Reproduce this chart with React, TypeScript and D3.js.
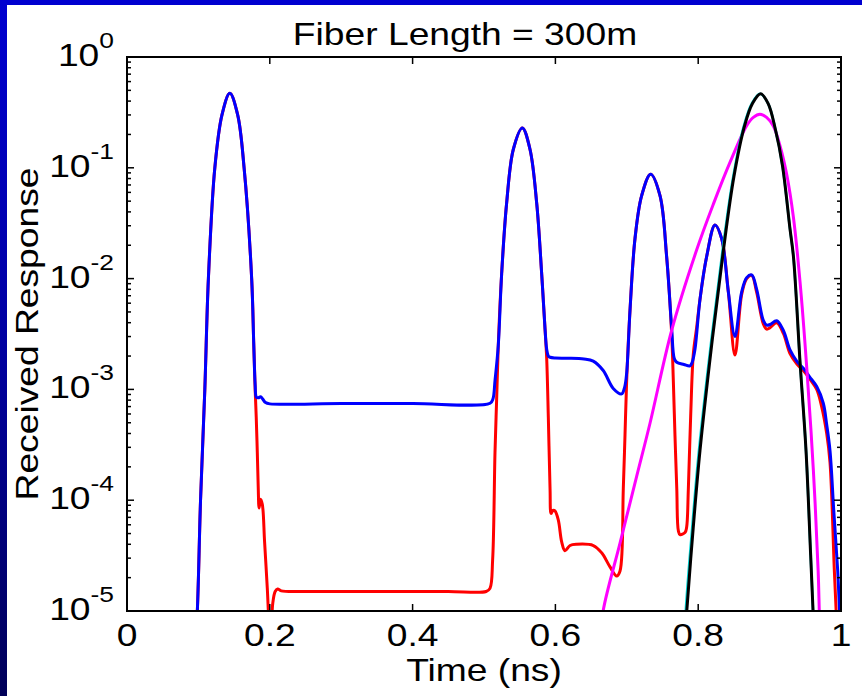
import React from "react";
import * as d3 from "d3";

const W = 862;
const H = 696;
const PL = 127, PR = 841, PT = 57, PB = 611;

const titleText = "Fiber Length = 300m";
const xLabelText = "Time (ns)";
const yLabelText = "Received Response";

const xTickValues = [0, 0.2, 0.4, 0.6, 0.8, 1];
const xTickLabels = ["0", "0.2", "0.4", "0.6", "0.8", "1"];
const yTickExponents = [0, -1, -2, -3, -4, -5];

const redData: [number, number][] = [
  [0.094, 3e-6], [0.0985, 1e-5], [0.103, 1e-4], [0.109, 1e-3], [0.114, 1e-2], [0.123, 0.1],
  [0.133, 0.3], [0.144, 0.47], [0.155, 0.3], [0.164, 0.1], [0.1746, 1e-2], [0.1775, 2.6e-3],
  [0.1795, 1.0e-3], [0.181, 5.6e-4], [0.1825, 2.7e-4], [0.1838, 1.3e-4], [0.185, 8.5e-5],
  [0.187, 1.02e-4], [0.1895, 9.2e-5], [0.1927, 4.2e-5], [0.1965, 1.6e-5], [0.1995, 7e-6],
  [0.2015, 6e-6], [0.204, 1.15e-5], [0.2075, 1.5e-5], [0.211, 1.58e-5], [0.216, 1.52e-5],
  [0.25, 1.5e-5], [0.35, 1.5e-5], [0.45, 1.5e-5], [0.503, 1.5e-5], [0.5084, 1.6e-5],
  [0.5121, 2.9e-5], [0.5154, 2.7e-4], [0.5177, 8.1e-4], [0.52, 2.5e-3], [0.5247, 1.1e-2],
  [0.5317, 4.8e-2], [0.5411, 0.147], [0.5537, 0.229], [0.5644, 0.147], [0.5738, 4.8e-2],
  [0.5808, 1.1e-2], [0.5855, 3.5e-3], [0.5878, 1.9e-3], [0.5901, 5.6e-4], [0.5925, 1.27e-4],
  [0.594, 7.6e-5], [0.5965, 8.1e-5], [0.5994, 8.0e-5], [0.6041, 6.6e-5], [0.6088, 4.2e-5],
  [0.6134, 3.5e-5], [0.6205, 3.9e-5], [0.6298, 4.0e-5], [0.6531, 3.9e-5], [0.6648, 3.35e-5],
  [0.6765, 2.5e-5], [0.6858, 2.07e-5], [0.6905, 2.3e-5], [0.6951, 1.27e-4], [0.6975, 3.9e-4],
  [0.6998, 1.2e-3], [0.7045, 5.2e-3], [0.7115, 2.3e-2], [0.7208, 5.6e-2], [0.7334, 8.75e-2],
  [0.7465, 5.6e-2], [0.7558, 1.58e-2], [0.7628, 3.2e-3], [0.7652, 1.18e-3], [0.7675, 3.8e-4],
  [0.77, 1.27e-4], [0.7722, 5.3e-5], [0.7745, 4.9e-5], [0.7815, 5.1e-5], [0.7838, 5.7e-5],
  [0.7862, 1.27e-4], [0.7894, 5.6e-4], [0.7932, 2.1e-3], [0.7978, 3.6e-3], [0.8025, 6.5e-3],
  [0.812, 1.6e-2], [0.8235, 3.05e-2], [0.8328, 2.3e-2], [0.8422, 7.6e-3], [0.8515, 2.04e-3],
  [0.8609, 7.2e-3], [0.8679, 1.0e-2], [0.8749, 1.07e-2], [0.8819, 7.5e-3], [0.8912, 3.9e-3],
  [0.8959, 3.5e-3], [0.9006, 3.6e-3], [0.91, 4.0e-3], [0.9193, 3.2e-3], [0.9286, 2.1e-3],
  [0.938, 1.7e-3], [0.9472, 1.48e-3], [0.956, 1.25e-3], [0.966, 1.0e-3], [0.9729, 7.0e-4],
  [0.98, 4.0e-4], [0.9846, 2.2e-4], [0.9907, 2.3e-5], [0.9932, 1e-5], [0.995, 5e-6],
];

const blueData: [number, number][] = [
  [0.094, 3e-6], [0.0985, 1e-5], [0.103, 1e-4], [0.109, 1e-3], [0.114, 1e-2], [0.123, 0.1],
  [0.133, 0.3], [0.144, 0.47], [0.155, 0.3], [0.164, 0.1], [0.1746, 1e-2], [0.1775, 2.6e-3],
  [0.1795, 1.1e-3], [0.1812, 8.5e-4], [0.184, 8.4e-4], [0.187, 8.6e-4], [0.19, 8.2e-4],
  [0.194, 7.6e-4], [0.2, 7.4e-4], [0.3, 7.45e-4], [0.4, 7.45e-4], [0.5085, 7.5e-4],
  [0.5125, 8.2e-4], [0.5154, 1.2e-3], [0.52, 2.5e-3], [0.5247, 1.1e-2], [0.5317, 4.8e-2],
  [0.5411, 0.147], [0.5537, 0.229], [0.5644, 0.147], [0.5738, 4.8e-2], [0.5808, 1.1e-2],
  [0.5855, 3.5e-3], [0.5878, 2.3e-3], [0.5901, 2.0e-3], [0.5925, 1.95e-3], [0.6, 1.92e-3],
  [0.6158, 1.91e-3], [0.64, 1.88e-3], [0.653, 1.8e-3], [0.667, 1.48e-3], [0.681, 1.02e-3],
  [0.6928, 9.1e-4], [0.697, 1.05e-3], [0.6998, 1.4e-3], [0.7045, 5.2e-3], [0.7115, 2.3e-2],
  [0.7208, 5.6e-2], [0.7334, 8.75e-2], [0.7465, 5.6e-2], [0.7558, 1.58e-2], [0.7628, 3.6e-3],
  [0.7665, 1.9e-3], [0.7699, 1.76e-3], [0.78, 1.68e-3], [0.7885, 1.63e-3], [0.7915, 1.75e-3],
  [0.7955, 2.3e-3], [0.8025, 6.5e-3], [0.812, 1.6e-2], [0.8235, 3.05e-2], [0.8328, 2.3e-2],
  [0.8422, 7.6e-3], [0.8515, 3.0e-3], [0.8609, 7.6e-3], [0.8679, 1.02e-2], [0.8749, 1.08e-2],
  [0.8819, 8.0e-3], [0.8912, 4.2e-3], [0.8959, 3.8e-3], [0.9006, 3.85e-3], [0.91, 4.17e-3],
  [0.9193, 3.4e-3], [0.9286, 2.27e-3], [0.938, 1.8e-3], [0.9472, 1.55e-3], [0.956, 1.3e-3],
  [0.966, 1.06e-3], [0.9752, 7.5e-4], [0.98, 4.8e-4], [0.9846, 2.8e-4], [0.9899, 8e-5],
  [0.9954, 2.3e-5], [0.998, 1e-5], [1.0, 6e-6],
];

const magentaData: [number, number][] = [
  [0.662, 5e-6], [0.6671, 1.02e-5], [0.6905, 4.1e-5], [0.7138, 1.64e-4], [0.7325, 4.95e-4],
  [0.7628, 3.4e-3], [0.7979, 1.82e-2], [0.8212, 4.7e-2], [0.8445, 0.112], [0.8679, 0.24],
  [0.8772, 0.285], [0.8865, 0.304], [0.8958, 0.285], [0.9052, 0.238], [0.9146, 0.158],
  [0.924, 8.7e-2], [0.9333, 3.6e-2], [0.9426, 9.4e-3], [0.952, 1.58e-3], [0.9613, 1.86e-4],
  [0.968, 2.3e-5], [0.9696, 1e-5], [0.971, 5e-6],
];

const cyanData: [number, number][] = [
  [0.7805, 5e-6], [0.7825, 1e-5], [0.7915, 5.6e-5], [0.801, 2.8e-4], [0.8175, 2.5e-3],
  [0.834, 1.78e-2], [0.849, 8.3e-2], [0.864, 0.24], [0.875, 0.38], [0.8865, 0.465],
  [0.898, 0.38], [0.908, 0.224], [0.918, 0.105], [0.9286, 2.8e-2], [0.9334, 1.58e-2],
  [0.9426, 1.78e-3], [0.951, 2.8e-4], [0.9575, 3.2e-5], [0.9612, 8.9e-6], [0.963, 5e-6],
];

const blackData: [number, number][] = [
  [0.781, 5e-6], [0.784, 1e-5], [0.793, 5.6e-5], [0.8025, 2.8e-4], [0.8188, 2.5e-3],
  [0.8352, 1.78e-2], [0.85, 8.3e-2], [0.865, 0.24], [0.876, 0.38], [0.8875, 0.465],
  [0.898, 0.38], [0.908, 0.224], [0.918, 0.105], [0.9286, 2.8e-2], [0.9334, 1.58e-2],
  [0.9426, 1.78e-3], [0.951, 2.8e-4], [0.9575, 3.2e-5], [0.9612, 8.9e-6], [0.963, 5e-6],
];

const FONT = "'Liberation Sans', Arial, Helvetica, sans-serif";
const SX = 1.2;
const FS = 31;

export default function App() {
  const x = d3.scaleLinear().domain([0, 1]).range([PL, PR]);
  const y = d3.scaleLog().domain([1e-5, 1]).range([PB, PT]);
  const line = d3
    .line<[number, number]>()
    .x((d) => x(d[0]))
    .y((d) => y(d[1]))
    .curve(d3.curveCatmullRom.alpha(0.5));

  const minorTicks: number[] = [];
  for (let e = -5; e < 0; e++) {
    for (let m = 2; m <= 9; m++) minorTicks.push(m * Math.pow(10, e));
  }
  const innerX = xTickValues.filter((v) => v > 0 && v < 1);

  const series: { data: [number, number][]; color: string; w: number }[] = [
    { data: redData, color: "#ff0000", w: 3 },
    { data: blueData, color: "#0000ff", w: 3 },
    { data: magentaData, color: "#ff00ff", w: 3 },
    { data: cyanData, color: "#00d8d8", w: 2.5 },
    { data: blackData, color: "#000000", w: 3 },
  ];

  return (
    <svg
      width={W}
      height={H}
      style={{ position: "absolute", left: 0, top: 0, display: "block" }}
      fontFamily={FONT}
    >
      <defs>
        <linearGradient id="bg" x1="0" y1="0" x2="0" y2="1">
          <stop offset="0" stopColor="#0000d0" />
          <stop offset="0.5" stopColor="#0000a0" />
          <stop offset="1" stopColor="#000058" />
        </linearGradient>
        <clipPath id="plotclip">
          <rect x={PL} y={PT} width={PR - PL} height={PB - PT} />
        </clipPath>
      </defs>
      <rect x={0} y={0} width={W} height={H} fill="url(#bg)" />
      <rect x={7} y={5} width={W - 7} height={H - 5} fill="#ffffff" />

      <g clipPath="url(#plotclip)">
        {series.map((s, i) => (
          <path
            key={i}
            d={line(s.data) || ""}
            fill="none"
            stroke={s.color}
            strokeWidth={s.w}
            strokeLinejoin="round"
          />
        ))}
      </g>

      <g stroke="#000" strokeWidth={1.5}>
        {yTickExponents.map((e) => {
          const yy = y(Math.pow(10, e));
          return (
            <g key={"ym" + e}>
              <line x1={PL} x2={PL + 7} y1={yy} y2={yy} />
              <line x1={PR} x2={PR - 7} y1={yy} y2={yy} />
            </g>
          );
        })}
        {minorTicks.map((v, i) => {
          const yy = y(v);
          return (
            <g key={"yn" + i}>
              <line x1={PL} x2={PL + 4} y1={yy} y2={yy} />
              <line x1={PR} x2={PR - 4} y1={yy} y2={yy} />
            </g>
          );
        })}
        {innerX.map((v) => (
          <g key={"xt" + v}>
            <line x1={x(v)} x2={x(v)} y1={PB} y2={PB - 7} />
            <line x1={x(v)} x2={x(v)} y1={PT} y2={PT + 7} />
          </g>
        ))}
      </g>
      <rect
        x={PL}
        y={PT}
        width={PR - PL}
        height={PB - PT}
        fill="none"
        stroke="#000"
        strokeWidth={2}
      />

      {xTickValues.map((v, i) => (
        <text
          key={"xl" + i}
          transform={`translate(${x(v)},${PB + 35}) scale(${SX},1)`}
          textAnchor="middle"
          fontSize={FS}
          fill="#000"
        >
          {xTickLabels[i]}
        </text>
      ))}

      {yTickExponents.map((e) => {
        const yy = y(Math.pow(10, e));
        return (
          <text
            key={"yl" + e}
            transform={`translate(${PL - 13},${yy + 9}) scale(${SX},1)`}
            textAnchor="end"
            fontSize={FS}
            fill="#000"
          >
            10
            <tspan fontSize={22} dy={-18}>
              {String(e)}
            </tspan>
          </text>
        );
      })}

      <text
        transform={`translate(465,45) scale(${SX},1)`}
        textAnchor="middle"
        fontSize={FS}
        fill="#000"
      >
        {titleText}
      </text>
      <text
        transform={`translate(484,681) scale(${SX},1)`}
        textAnchor="middle"
        fontSize={FS}
        fill="#000"
      >
        {xLabelText}
      </text>
      <text
        transform={`translate(38,${(PT + PB) / 2}) rotate(-90) scale(${SX},1)`}
        textAnchor="middle"
        fontSize={FS}
        fill="#000"
      >
        {yLabelText}
      </text>
    </svg>
  );
}
